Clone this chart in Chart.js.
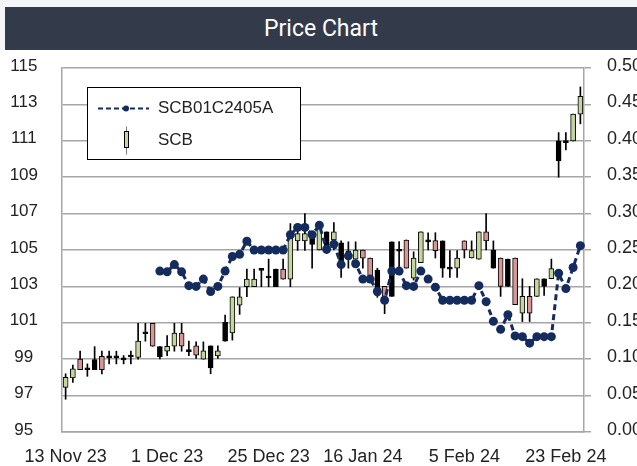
<!DOCTYPE html>
<html>
<head>
<meta charset="utf-8">
<script src="https://cdn.jsdelivr.net/npm/chart.js@4.4.1/dist/chart.umd.min.js"></script>
<style>
  html, body { margin: 0; padding: 0; background: #fff; overflow: hidden; }
  #top { position: absolute; left: 0; top: 0; width: 637px; height: 50px; background: #f4f5f7; }
  #title { position: absolute; left: 5px; top: 7px; width: 632px; height: 43px; background: #333b4b;
    color: #fff; font: 400 23px Roboto, sans-serif; text-align: center; line-height: 43px; }
  #wrap { position: absolute; left: 0; top: 50px; width: 637px; height: 416px; overflow: hidden; }
  #box { width: 660px; height: 416px; }
</style>
</head>
<body>
<div id="top"><div id="title">Price Chart</div></div>
<div id="wrap"><div id="box"><canvas id="myChart"></canvas></div></div>
<script>
// x axis labels (index of the trading day they sit on)
const tickIdx = [0, 14, 28, 41, 55, 69];
const tickText = ["13 Nov 23", "1 Dec 23", "25 Dec 23", "16 Jan 24", "5 Feb 24", "23 Feb 24"];

// SCB daily candles
const open = [97.45, 97.97, 99.0, 98.42, 98.43, 99.16, 99.08, 99.08, 98.96, 99.12,
  99.1, 100.4, 100.97, 99.14, 99.44, 99.71, 100.44, 99.42, 99.73, 99.0,
  99.73, 99.18, 101.02, 100.45, 101.97, 102.98, 102.98, 103.88, 103.46, 103.95,
  103.95, 103.4, 105.5, 105.5, 105.7, 105.0, 106.0, 105.55, 105.4, 104.85,
  104.5, 105.0, 104.55, 103.9, 103.0, 105.45, 104.93, 105.55, 103.45, 104.3,
  105.45, 105.52, 105.5, 103.95, 104.0, 105.5, 104.56, 104.5, 106.0, 105.0,
  104.56, 104.5, 104.56, 101.53, 102.45, 102.45, 103.42, 103.42, 111.0, 110.9,
  111.0, 112.47];
const high = [98.2, 98.68, 99.44, 98.74, 99.69, 99.44, 99.44, 99.44, 99.2, 99.44,
  100.97, 100.97, 100.97, 99.69, 100.3, 100.97, 100.97, 99.99, 99.95, 99.95,
  99.73, 99.73, 101.42, 102.43, 102.93, 103.95, 103.95, 103.95, 104.5, 103.95,
  104.5, 106.45, 106.45, 107.0, 105.7, 106.45, 106.0, 106.5, 105.5, 105.45,
  105.45, 105.0, 104.55, 104.0, 103.0, 105.45, 105.46, 105.55, 104.9, 106.0,
  105.95, 105.95, 105.5, 104.97, 104.97, 105.5, 105.5, 106.0, 107.0, 105.5,
  104.56, 104.5, 104.56, 103.42, 103.0, 103.42, 103.42, 104.5, 111.45, 111.45,
  112.47, 113.96];
const low = [96.8, 97.73, 98.43, 98.06, 98.43, 98.19, 98.74, 98.74, 98.74, 98.74,
  99.0, 99.99, 99.71, 99.01, 99.2, 99.44, 99.44, 99.2, 99.04, 99.0,
  98.2, 99.04, 99.99, 100.05, 101.46, 102.43, 102.98, 102.98, 102.98, 102.98,
  103.4, 102.98, 104.98, 104.98, 104.0, 105.0, 104.8, 105.0, 103.5, 104.0,
  104.5, 104.0, 103.35, 102.4, 101.5, 102.45, 104.0, 104.0, 103.35, 104.3,
  105.0, 104.56, 103.5, 103.5, 103.5, 104.56, 104.56, 104.5, 105.0, 104.0,
  102.45, 103.0, 102.0, 101.07, 101.07, 102.45, 102.5, 103.42, 109.0, 110.5,
  111.0, 111.93];
const close = [98.0, 98.47, 98.43, 98.48, 98.98, 98.43, 99.12, 99.12, 99.0, 99.16,
  99.99, 100.44, 99.71, 99.69, 99.71, 100.44, 99.71, 99.46, 99.22, 99.46,
  98.52, 99.46, 99.99, 102.43, 102.43, 103.4, 103.4, 103.95, 103.5, 102.98,
  103.4, 105.9, 105.9, 105.9, 105.3, 106.4, 105.0, 106.0, 104.2, 104.95,
  105.0, 104.55, 103.45, 102.5, 102.45, 102.45, 105.0, 104.0, 104.55, 106.0,
  105.52, 104.97, 104.0, 104.02, 104.55, 105.0, 104.97, 106.0, 105.5, 104.0,
  103.0, 103.0, 102.0, 102.45, 101.53, 103.42, 103.0, 103.98, 109.9, 111.0,
  112.47, 113.45];
// g = up, p = down, k = dark bar
const kind = ["g", "g", "p", "k", "k", "p", "k", "k", "k", "k",
  "g", "k", "p", "k", "g", "g", "p", "k", "p", "g",
  "k", "g", "k", "g", "g", "g", "g", "k", "k", "k",
  "p", "g", "g", "g", "k", "g", "k", "g", "k", "k",
  "g", "p", "p", "k", "p", "k", "k", "p", "g", "g",
  "k", "p", "k", "k", "g", "p", "g", "g", "p", "k",
  "p", "k", "p", "g", "p", "g", "k", "g", "k", "k",
  "g", "g"];

// SCB01C2405A warrant price (right axis), starts on day 13
const warrant = [null, null, null, null, null, null, null, null, null, null, null, null, null,
  0.221, 0.220, 0.230, 0.220, 0.201, 0.200, 0.210, 0.193, 0.200, 0.221,
  0.241, 0.244, 0.262, 0.250, 0.250, 0.250, 0.250, 0.250, 0.271, 0.281,
  0.281, 0.271, 0.284, 0.251, 0.258, 0.230, 0.242, 0.231, 0.210, 0.210,
  0.193, 0.181, 0.221, 0.221, 0.201, 0.200, 0.221, 0.210, 0.199, 0.181,
  0.181, 0.181, 0.181, 0.181, 0.201, 0.179, 0.152, 0.141, 0.161, 0.132,
  0.131, 0.122, 0.131, 0.131, 0.131, 0.218, 0.197, 0.226, 0.256];

const labels = open.map((o, i) => {
  const k = tickIdx.indexOf(i);
  return k >= 0 ? tickText[k] : "";
});

const fill = { g: "#c3d69b", p: "#d99694", k: "#000000" };
const navy = "#142b5e";
const gridGray = "#a6a6a6";

Chart.defaults.font.family = "'Liberation Sans', Arial, sans-serif";
Chart.defaults.font.size = 17;
Chart.defaults.color = "#222";

// legend box drawn inside the plot, like the original
const legendBox = {
  id: "legendBox",
  afterDatasetsDraw(chart) {
    const { ctx, chartArea } = chart;
    const x = chartArea.left + 25, y = chartArea.top + 19;
    const w = 213, h = 72;
    ctx.save();
    ctx.fillStyle = "#fff";
    ctx.fillRect(x, y, w, h);
    ctx.strokeStyle = "#000";
    ctx.lineWidth = 1;
    ctx.strokeRect(x + 0.5, y + 0.5, w, h);

    const line = chart.data.datasets[2];
    const candle = chart.data.datasets[1];

    // dashed line + dot
    const ly = y + 21.5;
    ctx.strokeStyle = navy;
    ctx.lineWidth = 2;
    ctx.setLineDash([5, 3]);
    ctx.beginPath();
    ctx.moveTo(x + 11, ly);
    ctx.lineTo(x + 62, ly);
    ctx.stroke();
    ctx.setLineDash([]);
    ctx.fillStyle = navy;
    ctx.beginPath();
    ctx.arc(x + 39, ly, 3, 0, Math.PI * 2);
    ctx.fill();

    // candle icon
    const cx = x + 39, cy = y + 54.5;
    ctx.strokeStyle = "#777";
    ctx.lineWidth = 1;
    ctx.beginPath();
    ctx.moveTo(cx + 0.5, cy - 15);
    ctx.lineTo(cx + 0.5, cy + 13);
    ctx.stroke();
    ctx.fillStyle = fill.g;
    ctx.fillRect(cx - 1.5, cy - 10, 4, 16);
    ctx.strokeStyle = "#000";
    ctx.strokeRect(cx - 1.5, cy - 10, 4, 16);

    ctx.fillStyle = "#222";
    ctx.font = "17px 'Liberation Sans', Arial, sans-serif";
    ctx.textBaseline = "middle";
    ctx.textAlign = "left";
    ctx.fillText(line.label, x + 71, ly);
    ctx.fillText(candle.label, x + 71, cy - 1);
    ctx.restore();
  }
};

const ctx = document.getElementById("myChart");

new Chart(ctx, {
  type: "bar",
  data: {
    labels: labels,
    datasets: [
      {
        label: "SCB range",
        data: low.map((l, i) => [l, high[i]]),
        backgroundColor: "#000",
        barThickness: 1,
        grouped: false,
        yAxisID: "y",
        order: 3
      },
      {
        label: "SCB",
        data: open.map((o, i) => [o, close[i]]),
        backgroundColor: kind.map((k) => fill[k]),
        borderColor: "#000",
        borderWidth: 1,
        borderSkipped: false,
        barThickness: 5,
        minBarLength: 2,
        grouped: false,
        yAxisID: "y",
        order: 2
      },
      {
        type: "line",
        label: "SCB01C2405A",
        data: warrant,
        yAxisID: "y2",
        borderColor: navy,
        borderWidth: 3,
        borderDash: [6, 4],
        pointRadius: 4.5,
        pointBackgroundColor: navy,
        pointBorderWidth: 0,
        tension: 0,
        order: 1
      }
    ]
  },
  options: {
    responsive: true,
    maintainAspectRatio: false,
    animation: false,
    layout: { padding: { top: 18, left: 0, right: 0, bottom: 0 } },
    plugins: {
      legend: { display: false },
      tooltip: { enabled: false }
    },
    scales: {
      x: {
        offset: true,
        grid: { display: false, drawTicks: false },
        border: { display: true, color: gridGray, width: 1.5 },
        ticks: { autoSkip: false, maxRotation: 0, padding: 14, font: { size: 18 } },
        afterFit: (s) => { s.height = 34; }
      },
      y: {
        position: "left",
        min: 95,
        max: 115,
        ticks: { stepSize: 2, crossAlign: "center", padding: 24, labelOffset: -2 },
        grid: { color: gridGray, lineWidth: 1.5, drawTicks: false },
        border: { color: gridGray, width: 1.5 },
        afterFit: (s) => { s.width = 62; s.paddingTop = 10; s.paddingBottom = 10; }
      },
      y2: {
        position: "right",
        min: 0,
        max: 0.5,
        ticks: {
          stepSize: 0.05,
          padding: 16,
          labelOffset: -2,
          font: { size: 18 },
          callback: (v) => Number(v).toFixed(2)
        },
        grid: { drawOnChartArea: false, drawTicks: true, tickLength: 7, color: gridGray, lineWidth: 1.5 },
        border: { color: gridGray, width: 1.5 },
        afterFit: (s) => { s.width = 76; s.paddingTop = 10; s.paddingBottom = 10; }
      }
    }
  },
  plugins: [legendBox]
});
</script>
</body>
</html>
